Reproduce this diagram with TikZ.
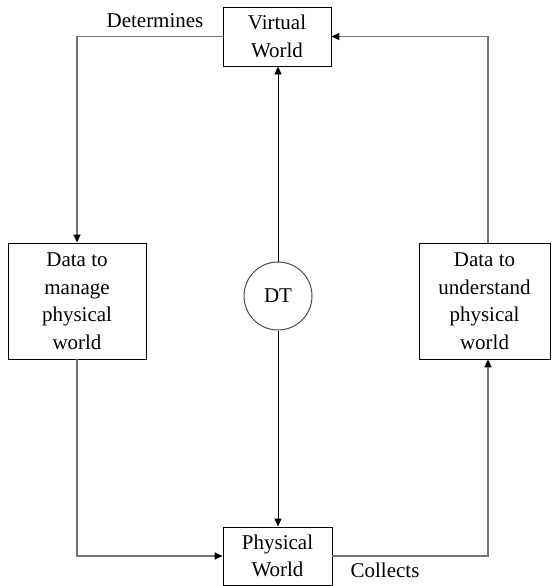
\documentclass[tikz,border=0pt]{standalone}
\usepackage{fontspec}
\setmainfont{Liberation Serif}
\usetikzlibrary{arrows.meta}
\begin{document}
\begin{tikzpicture}[x=1pt,y=-1pt,
  every node/.style={font=\fontsize{21}{27.5}\selectfont, inner sep=0pt},
  block/.style={draw=black, line width=0.9pt, align=center, minimum width=#1},
  block/.default=108pt,
  hub/.style={draw=black!70, line width=1pt, circle, minimum size=68pt},
  link/.style={draw=black!55, line width=1.5pt, -{Triangle[length=8pt,width=7pt,fill=black,color=black]}},
  spoke/.style={draw=black, line width=0.9pt, -{Triangle[length=8pt,width=7pt]}},
  tag/.style={anchor=center}]
  \useasboundingbox (0,0) rectangle (553,586);

  \node[block=108pt, minimum height=59pt] (vw) at (277,36.5) {Virtual\\World};
  \node[block=109pt, minimum height=58pt] (pw) at (277.5,556) {Physical\\World};
  \node[block=138pt, minimum height=116pt] (mg) at (77,301) {Data to\\manage\\physical\\world};
  \node[block=131pt, minimum height=116pt] (un) at (484.5,301) {Data to\\understand\\physical\\world};
  \node[hub] (dt) at (278,296) {DT};

  \coordinate (uc) at ([xshift=3.5pt]un.north);
  \coordinate (ub) at ([xshift=3.5pt]un.south);

  \draw[link] (vw.west) -| (mg.north);
  \draw[link] (uc) |- (vw.east);
  \draw[link] (mg.south) |- (pw.west);
  \draw[link] (pw.east) -| (ub);

  \draw[spoke] (dt.north) -- (dt.north |- vw.south);
  \draw[spoke] (dt.south) -- (dt.south |- pw.north);

  \node[tag] (det) at (155,21) {Determines};
  \node[tag] (col) at (385,570) {Collects};
\end{tikzpicture}
\end{document}
